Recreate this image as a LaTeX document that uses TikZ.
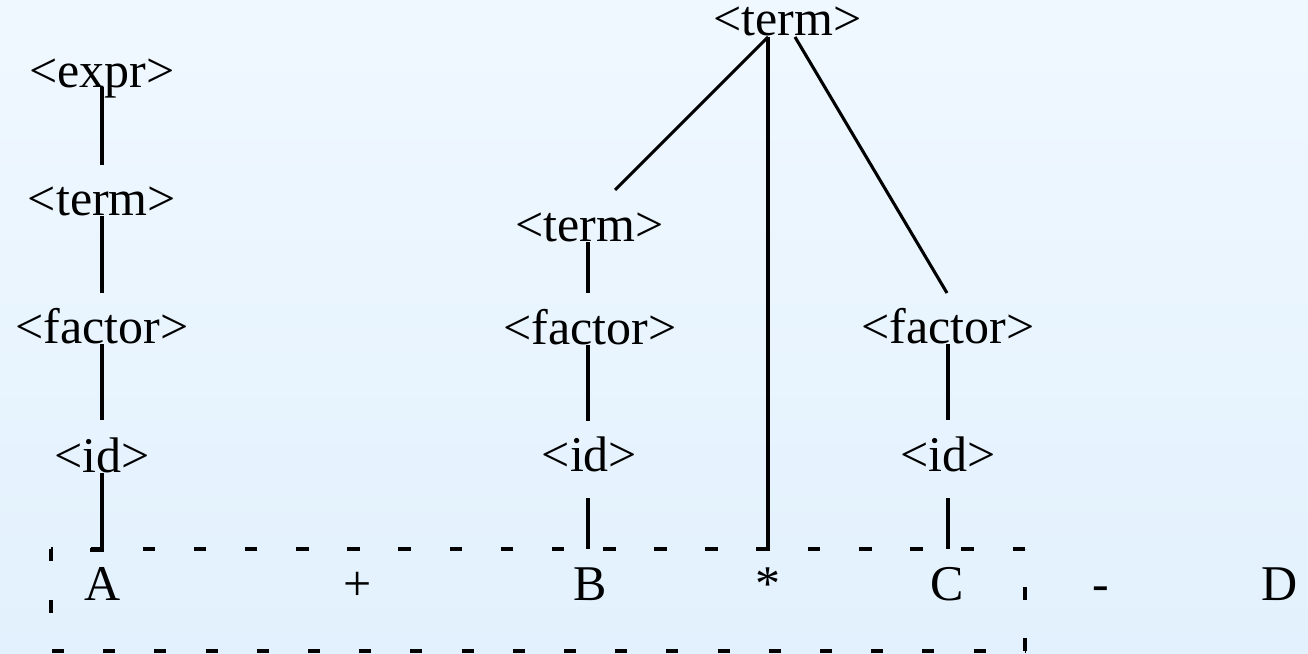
\documentclass[tikz,border=0pt]{standalone}
\usepackage{fontspec}
\setmainfont{Liberation Serif}
\usetikzlibrary{calc}
\definecolor{bgtop}{HTML}{F0F8FF}
\definecolor{bgbot}{HTML}{E2F1FD}
\tikzset{
  tok/.style={font=\fontsize{50}{60}\selectfont, inner sep=0pt, anchor=base, text=black},
  edge/.style={draw=black, line width=3.1pt},
  boxside/.style={draw=black, line width=3.4pt}
}
\begin{document}
\begin{tikzpicture}[x=1pt,y=1pt]
\useasboundingbox (0,0) rectangle (1308,653);
\shade[top color=bgtop, bottom color=bgbot] (0,0) rectangle (1308,653);
% left chain
\node[tok] (expr) at (102,565) {<expr>};
\node[tok] (lterm) at (102,437) {<term>};
\node[tok] (lfactor) at (102,309) {<factor>};
\node[tok] (lid) at (102,180) {<id>};
% middle/right
\node[tok] (tterm) at (787.5,617) {<term>};
\node[tok] (mterm) at (589.5,411) {<term>};
\node[tok] (mfactor) at (590,308) {<factor>};
\node[tok] (mid) at (589.5,181) {<id>};
\node[tok] (rfactor) at (948,309) {<factor>};
\node[tok] (rid) at (948,181) {<id>};
% tokens
\node[tok] (A) at (102.5,53) {A};
\node[tok] (plus) at (358,53) {+};
\node[tok] (B) at (590,53) {B};
\node[tok] (star) at (768,53) {*};
\node[tok] (C) at (947.5,53) {C};
\node[tok] (minus) at (1101,53) {-};
\node[tok] (D) at (1280,53) {D};
% dashed box
\coordinate (bl) at (51,2);
\coordinate (tl) at (51,104);
\coordinate (tr) at (1025,104);
\coordinate (br) at (1025,2);
\draw[boxside, dash pattern=on 12.5pt off 38.67pt] (tr) -- (tl);
\draw[boxside, dash pattern=on 12.5pt off 38.7pt] (tl) -- (bl);
\draw[boxside, dash pattern=on 12pt off 39.2pt] ($(bl)+(1,0)$) -- (br);
\draw[boxside, dash pattern=on 13pt off 38pt] (br) -- (tr);
% connectors
\draw[edge] ($(expr.base)+(0,1)$) -- ($(lterm.base)+(0,51)$);
\draw[edge] (lterm.base) -- ($(lfactor.base)+(0,51)$);
\draw[edge] (lfactor.base) -- ($(lid.base)+(0,53)$);
\draw[edge] (lid.base) -- ($(A.base)+(-0.5,50)$) -- ($(A.base)+(-12.5,50)$);
\draw[edge] ($(tterm.base)+(-19.5,-1)$) -- ($(mterm.base)+(25.5,52)$);
\draw[edge] ($(tterm.base)+(-19.5,-1)$) -- ($(star.base)+(0,51)$) -- ($(star.base)+(-12,51)$);
\draw[edge] ($(tterm.base)+(7.5,-1)$) -- ($(rfactor.base)+(-1,51)$);
\draw[edge] ($(mterm.base)+(-1.5,0)$) -- ($(mfactor.base)+(-2,52)$);
\draw[edge] ($(mfactor.base)+(-2,0)$) -- ($(mid.base)+(-1.5,51)$);
\draw[edge] ($(mid.base)+(-1.5,-26)$) -- ($(B.base)+(-2,51)$);
\draw[edge] (rfactor.base) -- ($(rid.base)+(0,52)$);
\draw[edge] ($(rid.base)+(0,-26)$) -- ($(C.base)+(0.5,51)$);
\end{tikzpicture}
\end{document}
